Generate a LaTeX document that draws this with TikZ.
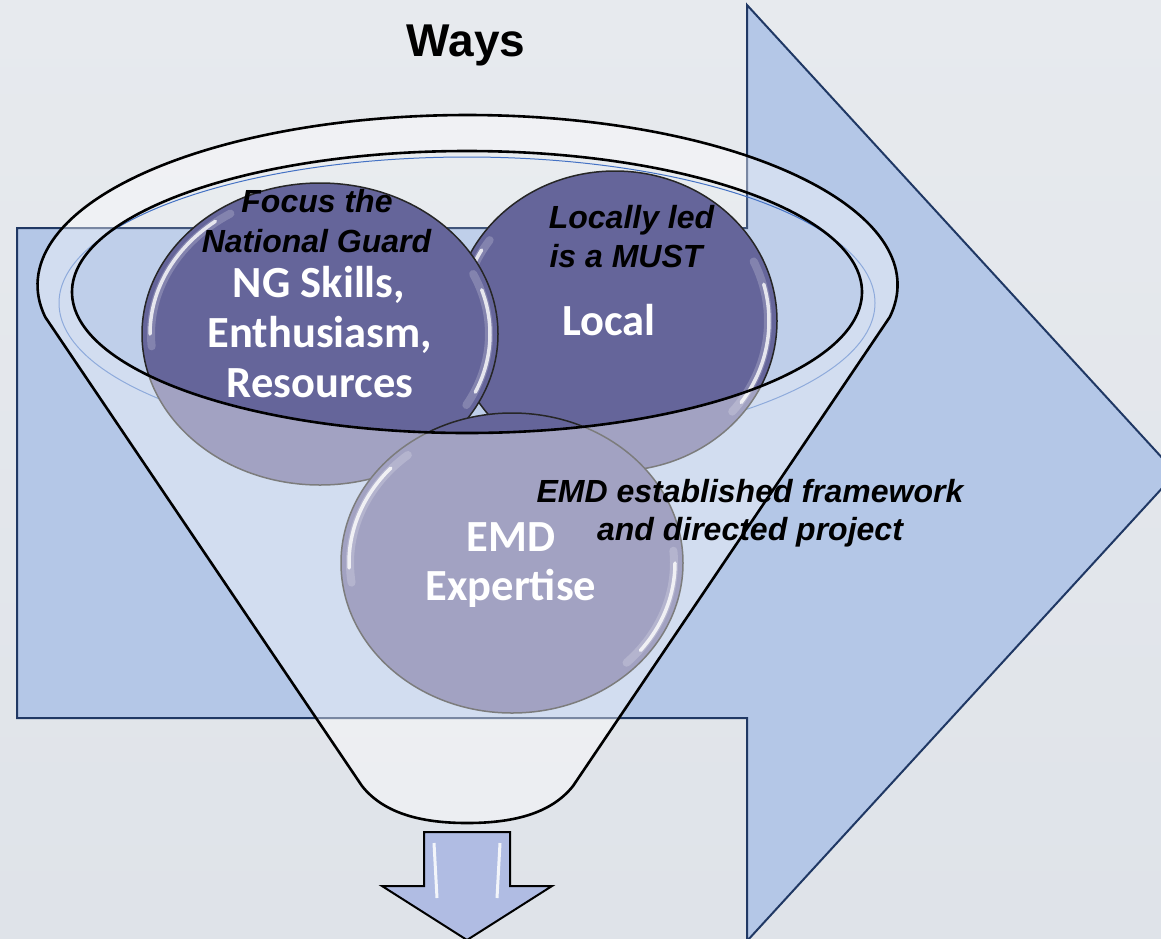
\documentclass[tikz,border=0pt]{standalone}
\usepackage{fontspec}
\setmainfont{Liberation Sans}
\newfontfamily\calfont{Carlito}
\definecolor{bgtop}{HTML}{E7EAEE}
\definecolor{bgbot}{HTML}{DFE3E9}
\definecolor{arrowfill}{HTML}{B4C7E7}
\definecolor{arrowline}{HTML}{203864}
\definecolor{ballc}{HTML}{65659A}
\definecolor{rimblue}{HTML}{4472C4}
\definecolor{downfill}{HTML}{B0BCE3}
\begin{document}
\begin{tikzpicture}[x=1pt,y=-1pt,
  bigarrow/.style={fill=arrowfill,draw=arrowline,line width=2pt,line join=miter},
  ball/.style={fill=ballc,draw=black!85,line width=1.5pt},
  glare/.style={draw=white,line width=3.5pt,opacity=0.8,line cap=round},
  softglare/.style={draw=white,line width=8pt,opacity=0.2,line cap=round},
  funnelline/.style={draw=black,line width=2.6pt,line join=round},
  ittext/.style={font=\fontsize{32}{40}\selectfont\bfseries\itshape,anchor=base,inner sep=0pt,text=black},
  caltext/.style={font=\calfont\bfseries\fontsize{44.5}{50}\selectfont,anchor=base,inner sep=0pt,text=white},
  downarrow/.style={fill=downfill,draw=black,line width=2pt,line join=miter}
]
\useasboundingbox (0,0) rectangle (1161,938);
\clip (0,0) rectangle (1161,938);
% background
\shade[top color=bgtop,bottom color=bgbot] (0,0) rectangle (1161,938);

% big arrow
\path[bigarrow] (17,228) -- (747,228) -- (747,5) -- (1176,473) -- (747,941) -- (747,718) -- (17,718) -- cycle;

% inner ellipse light veil
\fill[white,opacity=0.15] (467,292) ellipse[x radius=395, y radius=141];
% thin blue rim ellipse
\draw[rimblue,line width=1pt] (467,303) ellipse[x radius=408, y radius=146];

% balls
\path[ball] (615,321) ellipse[x radius=162, y radius=150];
\draw[softglare] (615,321) ++(160:153 and 141) arc[start angle=160, end angle=215, x radius=153, y radius=141];
\draw[glare] (615,321) ++(165:154 and 142) arc[start angle=165, end angle=210, x radius=154, y radius=142];
\draw[softglare] (615,321) ++(-25:153 and 141) arc[start angle=-25, end angle=40, x radius=153, y radius=141];
\draw[glare] (615,321) ++(-15:154 and 142) arc[start angle=-15, end angle=35, x radius=154, y radius=142];

\path[ball] (320,334) ellipse[x radius=178, y radius=151];
\draw[softglare] (320,334) ++(175:169 and 142) arc[start angle=175, end angle=238, x radius=169, y radius=142];
\draw[glare] (320,334) ++(180:170 and 143) arc[start angle=180, end angle=232, x radius=170, y radius=143];
\draw[softglare] (320,334) ++(-25:169 and 142) arc[start angle=-25, end angle=30, x radius=169, y radius=142];
\draw[glare] (320,334) ++(-18:170 and 143) arc[start angle=-18, end angle=24, x radius=170, y radius=143];

\path[ball] (512,563) ellipse[x radius=171, y radius=150];
\draw[softglare] (512,563) ++(172:162 and 141) arc[start angle=172, end angle=230, x radius=162, y radius=141];
\draw[glare] (512,563) ++(178:163 and 142) arc[start angle=178, end angle=222, x radius=163, y radius=142];
\draw[softglare] (512,563) ++(-5:162 and 141) arc[start angle=-5, end angle=45, x radius=162, y radius=141];
\draw[glare] (512,563) ++(0:163 and 142) arc[start angle=0, end angle=38, x radius=163, y radius=142];

% funnel body veil (excluding inner ellipse)
\fill[white,opacity=0.4,even odd rule]
  (889.8,317) arc[start angle=10.85, end angle=-190.85, x radius=430, y radius=170]
  -- (362,786) .. controls (385,815) and (425,823) .. (467,823)
  .. controls (510,823) and (550,815) .. (573,786) -- cycle
  (467,292) ellipse[x radius=395, y radius=141];

% funnel outlines
\path[funnelline]
  (889.8,317) arc[start angle=10.85, end angle=-190.85, x radius=430, y radius=170]
  -- (362,786) .. controls (385,815) and (425,823) .. (467,823)
  .. controls (510,823) and (550,815) .. (573,786) -- cycle;
\path[funnelline] (467,292) ellipse[x radius=395, y radius=141];

% down arrow
\path[downarrow] (424,832) -- (510,832) -- (510,886) -- (552,886) -- (467,940) -- (382,886) -- (424,886) -- cycle;
\draw[white,line width=3pt,opacity=0.85] (434,843) -- (437,898);
\draw[white,line width=3pt,opacity=0.85] (500,843) -- (497,898);

% texts
\node[font=\fontsize{46}{50}\selectfont\bfseries,anchor=base,inner sep=0pt] (ways) at (466,56) {Ways};

\node[ittext] (focus1) at (317,212) {Focus the};
\node[ittext] (focus2) at (316.5,252) {National Guard};
\node[caltext] (ng1) at (319,297) {NG Skills,};
\node[caltext] (ng2) at (320,347) {Enthusiasm,};
\node[caltext] (ng3) at (320,397) {Resources};

\node[ittext] (loc1) at (631.5,228) {Locally led};
\node[ittext] (loc2) at (626,267) {is a MUST};
\node[caltext] (local) at (609,335) {Local};

\node[caltext] (emd1) at (511,551) {EMD};
\node[caltext] (emd2) at (511,600) {Expertise};

\node[ittext] (fw1) at (750,502) {EMD established framework};
\node[ittext] (fw2) at (750,540) {and directed project};
\end{tikzpicture}
\end{document}
